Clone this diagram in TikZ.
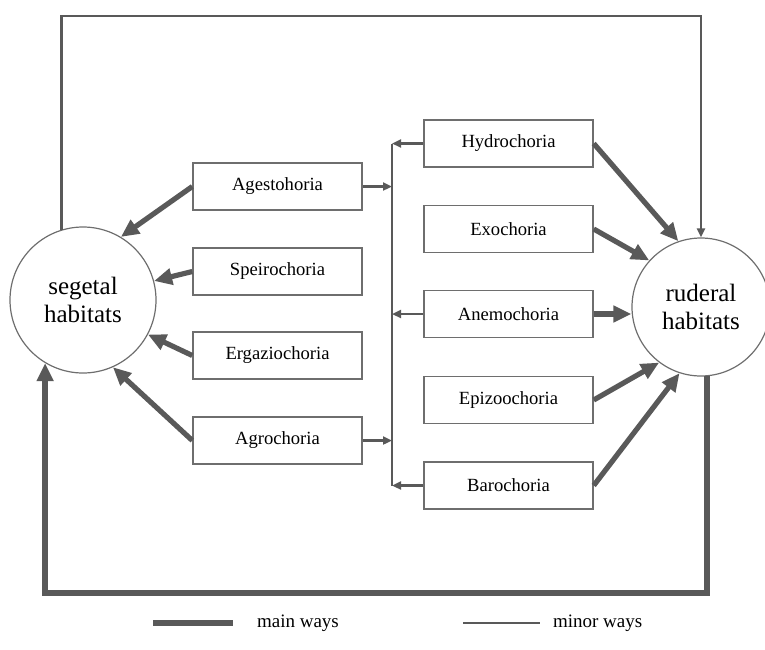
\documentclass[tikz,border=0pt]{standalone}
\usepackage{fontspec}
\setmainfont{Liberation Serif}
\usetikzlibrary{arrows.meta}
\definecolor{waygray}{HTML}{595959}
\definecolor{boxgray}{HTML}{6E6E6E}

\begin{document}
\begin{tikzpicture}[x=0.5pt,y=-0.5pt,
    habitat/.style={circle,draw=boxgray,line width=0.6pt,inner sep=0pt,minimum size=#1,align=center,font=\fontsize{12.5}{14}\selectfont},
    chorbox/.style={draw=boxgray,line width=0.7pt,minimum width=84.5pt,minimum height=23.5pt,inner sep=0pt,font=\fontsize{9.3}{11}\selectfont},
    mainline/.style={draw=waygray,line width=2.6pt},
    minorline/.style={draw=waygray,line width=1.1pt},
    mainway/.style={mainline,-{Triangle[length=9pt,width=8pt]}},
    minorway/.style={minorline,-{Triangle[length=4.5pt,width=4pt]}},
    legtext/.style={anchor=west,font=\fontsize{9.5}{11}\selectfont},
  ]
  \useasboundingbox (0,0) rectangle (765,649);

  % habitats
  \node[habitat=73pt] (seg) at (83,300) {segetal\\habitats};
  \node[habitat=69pt] (rud) at (701,307) {ruderal\\habitats};

  % human-mediated dispersal
  \node[chorbox] (agest) at (277.5,186.5) {Agestohoria};
  \node[chorbox] (speir) at (277.5,271.5) {Speirochoria};
  \node[chorbox] (ergaz) at (277.5,355.5) {Ergaziochoria};
  \node[chorbox] (agro) at (277.5,440.5) {Agrochoria};

  % natural dispersal
  \node[chorbox] (hydro) at (508.5,143.5) {Hydrochoria};
  \node[chorbox] (exo) at (508.5,229) {Exochoria};
  \node[chorbox] (anemo) at (508.5,314) {Anemochoria};
  \node[chorbox] (epizoo) at (508.5,400) {Epizoochoria};
  \node[chorbox] (baro) at (508.5,485.5) {Barochoria};

  % collecting line between the two columns
  \coordinate (spine) at (392,0);
  \draw[minorline] (hydro.west -| spine) -- (baro.west -| spine);
  \draw[minorway] (agest.east) -- (agest.east -| spine);
  \draw[minorway] (agro.east) -- (agro.east -| spine);
  \draw[minorway] (hydro.west) -- (hydro.west -| spine);
  \draw[minorway] (anemo.west) -- (anemo.west -| spine);
  \draw[minorway] (baro.west) -- (baro.west -| spine);

  % main ways
  \draw[mainway] (agest.west) -- (seg.59);
  \draw[mainway] (speir.west) -- (seg.15);
  \draw[mainway] (ergaz.west) -- (seg.-28);
  \draw[mainway] (agro.west) -- (seg.-66);
  \draw[mainway] (hydro.east) -- (rud.109);
  \draw[mainway] (exo.east) -- (rud.138);
  \draw[mainway] (anemo.east) -- (anemo.east -| rud.west);
  \draw[mainway] (epizoo.east) -- (rud.233);
  \draw[mainway] (baro.east) -- (rud.252);

  % loops
  \coordinate (top) at (0,16);
  \coordinate (bottom) at (0,593);
  \draw[minorway] (seg.107) |- (top -| rud.north) -- (rud.north);
  \draw[mainway] (rud.-85) |- (bottom -| seg.-121) -- (seg.-121);

  % legend
  \coordinate (mainA) at (153,623);
  \coordinate (mainB) at (233,623);
  \coordinate (minorA) at (463,623);
  \coordinate (minorB) at (540,623);
  \draw[mainline,line width=2.8pt] (mainA) -- (mainB);
  \node[legtext] (maintxt) at (250,623) {main ways};
  \draw[minorline] (minorA) -- (minorB);
  \node[legtext] (minortxt) at (546,623) {minor ways};
\end{tikzpicture}
\end{document}
